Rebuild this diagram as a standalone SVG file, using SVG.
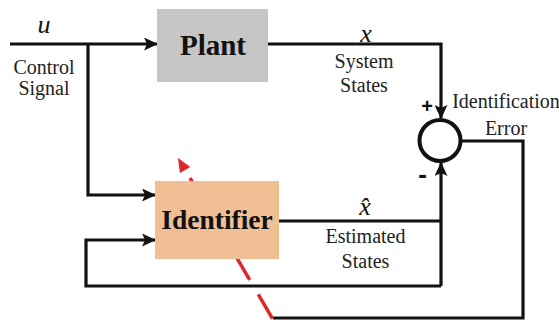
<svg xmlns="http://www.w3.org/2000/svg" width="559" height="320" viewBox="0 0 559 320">
<defs>
<marker id="ah" markerWidth="14" markerHeight="13" refX="13" refY="6.5" orient="auto" markerUnits="userSpaceOnUse" viewBox="0 0 14 13">
<path d="M0,0 L14,6.5 L0,13 L3,6.5 Z" fill="#111"/>
</marker>
<style>
.ln{fill:none;stroke:#111;stroke-width:3.2}
text{font-family:'Liberation Serif','Times New Roman',serif}
.lb{font-size:20px;fill:#222;text-anchor:middle}
.var{font-size:26px;font-style:italic;fill:#111;text-anchor:middle}
.bt{font-weight:bold;fill:#111;text-anchor:middle}
.sg{font-family:'Liberation Sans',Arial,sans-serif;font-weight:bold;fill:#111;text-anchor:middle}
</style>
</defs>
<g id="connectors">
<path class="ln" d="M10,44 H157" marker-end="url(#ah)"/>
<path class="ln" d="M88,44 V195 H155" marker-end="url(#ah)"/>
<path class="ln" d="M268,44 H441 V118" marker-end="url(#ah)"/>
<path class="ln" d="M279,221 H441"/>
<path class="ln" d="M441,286 V163" marker-end="url(#ah)"/>
<path class="ln" d="M441,286 H86 V240 H155" marker-end="url(#ah)"/>
<path class="ln" d="M461,141 H523 V318 H273"/>
<path d="M190,178 L275,323" fill="none" stroke="#e0282a" stroke-width="3.5" stroke-dasharray="28,17"/>
<polygon points="178,158 190.3,167.1 179.9,173.1" fill="#e0282a"/>
</g>
<g id="plant">
<rect x="157" y="9" width="111" height="73" fill="#c6c6c6"/>
<text class="bt" x="213" y="55" font-size="29">Plant</text>
</g>
<g id="identifier">
<rect x="155" y="181" width="124" height="78" fill="#f0bf94"/>
<text class="bt" x="217" y="229" font-size="27.5">Identifier</text>
</g>
<g id="sum">
<circle cx="440" cy="140.5" r="20.5" fill="#fff" stroke="#111" stroke-width="4"/>
<text class="sg" x="427" y="113" font-size="20">+</text>
<text class="sg" x="422.5" y="183" font-size="26">-</text>
</g>
<g id="labels">
<text class="var" x="44" y="33">u</text>
<text class="lb" x="44" y="74" font-size="18.5">Control</text>
<text class="lb" x="44" y="95" font-size="18.5">Signal</text>
<text class="var" x="366" y="42">x</text>
<text class="lb" x="364" y="68">System</text>
<text class="lb" x="364" y="92">States</text>
<text class="var" x="365" y="215">x̂</text>
<text class="lb" x="365.5" y="243">Estimated</text>
<text class="lb" x="365.5" y="268">States</text>
<text class="lb" x="506" y="108">Identification</text>
<text class="lb" x="506" y="135">Error</text>
</g>
</svg>
